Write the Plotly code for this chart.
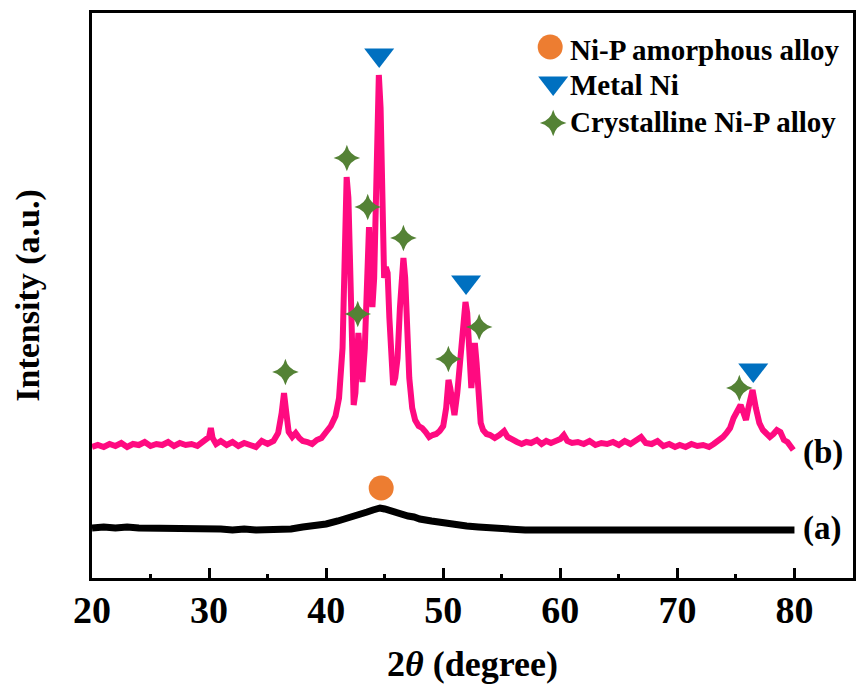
import plotly.graph_objects as go

# ---- data: curve (b) crystalline sample ----
two_theta_b = [20.0, 20.5, 21.0, 21.5, 22.0, 22.5, 23.0, 23.5, 24.0, 24.5, 25.0, 25.5, 26.0, 26.5, 27.0, 27.5,
               28.0, 28.5, 29.0, 29.5, 30.0, 30.15, 30.3, 30.6, 31.0, 31.5, 32.0, 32.5, 33.0, 33.5, 34.0, 34.5,
               35.0, 35.5, 35.9, 36.2, 36.4, 36.6, 36.8, 37.1, 37.4, 37.7, 38.0, 38.4, 38.8, 39.2, 39.6, 40.0,
               40.4, 40.8, 41.1, 41.4, 41.6, 41.75, 41.9, 42.05, 42.2, 42.35, 42.5, 42.75, 42.95, 43.1, 43.3,
               43.5, 43.66, 43.8, 43.95, 44.1, 44.3, 44.5, 44.65, 44.8, 44.95, 45.1, 45.25, 45.4, 45.55, 45.72,
               45.9, 46.1, 46.3, 46.45, 46.6, 46.75, 46.9, 47.1, 47.35, 47.6, 47.9, 48.2, 48.5, 48.8, 49.1,
               49.4, 49.7, 50.0, 50.25, 50.45, 50.6, 50.8, 50.96, 51.2, 51.45, 51.7, 51.9, 52.05, 52.2, 52.4,
               52.55, 52.7, 52.85, 53.0, 53.2, 53.4, 53.7, 54.0, 54.4, 54.8, 55.2, 55.5, 55.9, 56.3, 56.7,
               57.1, 57.5, 58.0, 58.4, 58.8, 59.2, 59.6, 60.0, 60.3, 60.6, 61.0, 61.5, 62.0, 62.5, 63.0, 63.5,
               64.0, 64.5, 65.0, 65.5, 66.0, 66.5, 66.9, 67.3, 67.8, 68.3, 68.8, 69.3, 69.8, 70.2, 70.7, 71.2,
               71.7, 72.2, 72.7, 73.1, 73.5, 73.9, 74.2, 74.5, 74.8, 75.1, 75.4, 75.65, 75.86, 76.1, 76.42,
               76.7, 77.0, 77.3, 77.6, 77.9, 78.2, 78.5, 78.8, 79.1, 79.4, 79.7, 79.9]
intensity_b = [131, 133, 131, 134, 132, 135, 131, 134, 133, 136, 132, 134, 133, 136, 132, 135,
               133, 134, 132, 137, 141, 150, 140, 134, 137, 133, 136, 132, 135, 133, 131, 137,
               134, 137, 145, 165, 185, 165, 146, 141, 145, 140, 137, 136, 134, 138, 140, 146,
               152, 162, 180, 230, 330, 401, 380, 300, 200, 173, 185, 245, 215, 196, 230,
               320, 351, 300, 271, 300, 420, 503, 470, 380, 300, 311, 305, 260, 220, 193,
               200, 220, 270, 310, 320, 300, 240, 200, 170, 158, 152, 150, 146, 141, 143,
               144, 147, 152, 170, 198, 190, 170, 163, 185, 220, 255, 276, 265, 230, 190,
               210, 235, 215, 180, 155, 148, 144, 143, 140, 143, 147, 141, 138, 136, 134,
               136, 135, 138, 134, 137, 135, 137, 139, 143, 137, 135, 136, 134, 137, 133, 135,
               134, 136, 133, 137, 134, 137, 141, 135, 134, 137, 132, 134, 131, 133, 131, 134,
               132, 133, 131, 134, 137, 141, 145, 150, 160, 168, 173, 165, 158, 172, 188,
               170, 155, 148, 144, 141, 144, 148, 146, 138, 136, 131, 128]

# ---- data: curve (a) amorphous sample ----
two_theta_a = [20, 21, 22, 23, 24, 25, 26, 27, 28, 29, 30, 31, 32, 33, 34, 35, 36, 37, 38, 39, 40, 41, 42,
               43, 43.5, 44, 44.3, 44.6, 45, 45.5, 46, 46.5, 47, 47.5, 48, 49, 50, 51, 52, 53, 54, 55, 56,
               57, 58, 59, 60, 62, 64, 66, 68, 70, 72, 74, 76, 78, 80]
intensity_a = [50, 51, 50, 51, 50, 50, 49, 50, 49, 49, 50, 49, 48, 49, 48, 48, 49, 49, 51, 52, 54, 57, 60,
               64, 66, 68, 69, 70, 69, 67, 65, 64, 62, 61, 59, 57, 55, 53, 52, 51, 50, 50, 49,
               48, 48, 48, 48, 48, 48, 48, 48, 48, 48, 48, 48, 48, 48]

# ---- peak markers ----
amorph_x = [44.7]
amorph_y = [90]
metal_ni_x = [44.53, 51.95, 76.48]
metal_ni_y = [523, 296, 208]
cryst_x = [36.52, 41.77, 43.55, 42.7, 46.6, 50.44, 53.07, 75.29]
cryst_y = [206, 420, 371, 264, 340, 219, 251, 190]

legend_labels = ["Ni-P amorphous alloy", "Metal Ni", "Crystalline Ni-P alloy"]
curve_labels = ["(b)", "(a)"]
x_ticks = [20, 30, 40, 50, 60, 70, 80]

PINK = "#FF0A80"
BLUE = "#0070C0"
ORANGE = "#ED7D31"
GREEN = "#548235"
FONT = "Liberation Serif"

fig = go.Figure()
fig.add_trace(go.Scatter(x=two_theta_a, y=intensity_a, mode="lines",
                         line=dict(color="black", width=7), showlegend=False))
fig.add_trace(go.Scatter(x=two_theta_b, y=intensity_b, mode="lines",
                         line=dict(color=PINK, width=6), showlegend=False))
fig.add_trace(go.Scatter(x=amorph_x, y=amorph_y, mode="markers",
                         marker=dict(symbol="circle", size=25, color=ORANGE, opacity=1), showlegend=False))
fig.add_trace(go.Scatter(x=metal_ni_x, y=metal_ni_y, mode="markers",
                         marker=dict(symbol="triangle-down", size=26, color=BLUE, opacity=1), showlegend=False))
fig.add_trace(go.Scatter(x=cryst_x, y=cryst_y, mode="markers",
                         marker=dict(symbol="star-diamond", size=19, color=GREEN, opacity=1), showlegend=False))

# legend keys on an overlay axis measured in pixels of the plot area
key_px_x = [460, 463, 463]
key_px_y = [531, 495, 455]
key_symbols = ["circle", "triangle-down", "star-diamond"]
key_colors = [ORANGE, BLUE, GREEN]
key_sizes = [25, 26, 19]
for kx, ky, ks, kc, kz in zip(key_px_x, key_px_y, key_symbols, key_colors, key_sizes):
    fig.add_trace(go.Scatter(x=[kx], y=[ky], mode="markers", xaxis="x2", yaxis="y2",
                             marker=dict(symbol=ks, size=kz, color=kc, opacity=1),
                             showlegend=False))
for lab, ky in zip(legend_labels, [528, 493, 456]):
    fig.add_annotation(x=478, y=ky, xref="x2", yref="y2", text=lab, showarrow=False,
                       xanchor="left", yanchor="middle",
                       font=dict(family=FONT, size=29, color="black", weight="bold"))

for lab, ly in zip(curve_labels, [126, 50]):
    fig.add_annotation(x=80.6, y=ly, text=lab, showarrow=False, xanchor="left", yanchor="middle",
                       font=dict(family=FONT, size=33, color="black", weight="bold"))

fig.update_layout(
    width=858, height=691,
    margin=dict(l=92, r=2, t=13, b=113),
    paper_bgcolor="white", plot_bgcolor="white",
    font=dict(family=FONT, color="black"),
    xaxis=dict(range=[20, 85], tickvals=x_ticks, showgrid=False, zeroline=False,
               showline=True, linewidth=3, linecolor="black", mirror=True,
               ticks="inside", ticklen=10, tickwidth=3, tickcolor="black",
               ticklabelstandoff=-4,
               minor=dict(dtick=5, tick0=20, ticks="inside", ticklen=4, tickwidth=3, tickcolor="black"),
               tickfont=dict(family=FONT, size=38, weight="bold"),
               title=dict(text="2<i>θ</i> (degree)", standoff=22,
                          font=dict(family=FONT, size=36, weight="bold"))),
    yaxis=dict(range=[0, 565], showgrid=False, zeroline=False, showticklabels=False,
               showline=True, linewidth=3, linecolor="black", mirror=True, ticks="",
               title=dict(text="Intensity (a.u.)", standoff=40,
                          font=dict(family=FONT, size=34, weight="bold"))),
    xaxis2=dict(range=[0, 764], overlaying="x", visible=False),
    yaxis2=dict(range=[0, 565], overlaying="y", visible=False),
)

fig.write_html("out.html")
